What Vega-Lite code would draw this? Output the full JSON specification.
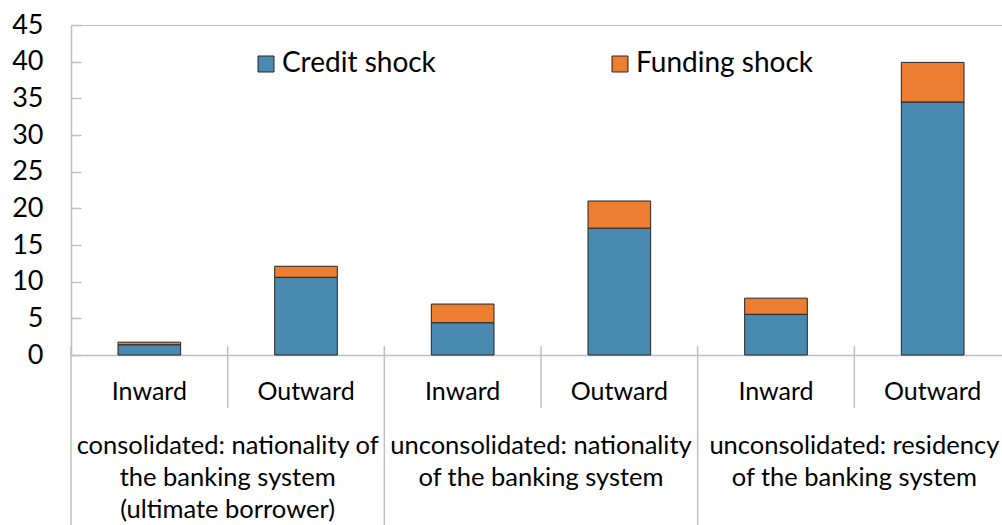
{
  "$schema": "https://vega.github.io/schema/vega-lite/v6.json",
  "width": 940,
  "height": 330,
  "autosize": {"type": "none"},
  "padding": {"left": 71, "top": 25, "right": 0, "bottom": 170},
  "background": "white",
  "config": {
    "font": "Lato",
    "view": {"stroke": "#bfbfbf", "strokeWidth": 1},
    "axisY": {
      "title": null,
      "labelOverlap": false,
      "grid": false,
      "labelFontSize": 27,
      "labelColor": "#000000",
      "tickSize": -10,
      "tickColor": "#bfbfbf",
      "tickWidth": 1.5,
      "labelPadding": 38,
      "domainColor": "#bfbfbf",
      "domainWidth": 1.5
    }
  },
  "datasets": {
    "bars": [
      {"category": "1 Inward", "shock": "Credit shock", "value": 1.4},
      {"category": "1 Inward", "shock": "Funding shock", "value": 0.35},
      {"category": "2 Outward", "shock": "Credit shock", "value": 10.6},
      {"category": "2 Outward", "shock": "Funding shock", "value": 1.5},
      {"category": "3 Inward", "shock": "Credit shock", "value": 4.4},
      {"category": "3 Inward", "shock": "Funding shock", "value": 2.55},
      {"category": "4 Outward", "shock": "Credit shock", "value": 17.3},
      {"category": "4 Outward", "shock": "Funding shock", "value": 3.7},
      {"category": "5 Inward", "shock": "Credit shock", "value": 5.55},
      {"category": "5 Inward", "shock": "Funding shock", "value": 2.2},
      {"category": "6 Outward", "shock": "Credit shock", "value": 34.5},
      {"category": "6 Outward", "shock": "Funding shock", "value": 5.4}
    ],
    "groups": [
      {"category": "2 Outward", "label": "consolidated: nationality of\nthe banking system\n(ultimate borrower)"},
      {"category": "4 Outward", "label": "unconsolidated: nationality\nof the banking system"},
      {"category": "6 Outward", "label": "unconsolidated: residency\nof the banking system"}
    ],
    "longSeps": [
      {"category": "1 Inward"},
      {"category": "3 Inward"},
      {"category": "5 Inward"}
    ],
    "shortSeps": [
      {"category": "2 Outward"},
      {"category": "4 Outward"},
      {"category": "6 Outward"}
    ]
  },
  "layer": [
    {
      "data": {"name": "bars"},
      "mark": {"type": "bar", "stroke": "#262626", "strokeWidth": 1},
      "encoding": {
        "x": {
          "field": "category",
          "type": "nominal",
          "sort": null,
          "scale": {"paddingInner": 0.6, "paddingOuter": 0.3},
          "axis": {
            "title": null,
            "labelExpr": "split(datum.value, ' ')[1]",
            "labelAngle": 0,
            "labelFontSize": 25,
            "labelColor": "#000000",
            "labelPadding": 24,
            "ticks": false,
            "domainColor": "#bfbfbf",
            "domainWidth": 1.5
          }
        },
        "y": {
          "field": "value",
          "type": "quantitative",
          "stack": "zero",
          "scale": {"domain": [0, 45], "nice": false},
          "axis": {"values": [0, 5, 10, 15, 20, 25, 30, 35, 40, 45], "labelOverlap": false}
        },
        "color": {
          "field": "shock",
          "type": "nominal",
          "scale": {"domain": ["Credit shock", "Funding shock"], "range": ["#4a8ab0", "#ed7d31"]},
          "legend": {
            "title": null,
            "orient": "none",
            "direction": "horizontal",
            "legendX": 181,
            "legendY": 25,
            "symbolType": "square",
            "symbolSize": 256,
            "symbolStrokeColor": "#262626",
            "symbolStrokeWidth": 1,
            "labelFontSize": 28,
            "labelLimit": 400,
            "labelColor": "#000000",
            "labelOffset": 2,
            "columnPadding": 170,
            "padding": 0
          }
        },
        "order": {"field": "shock", "sort": "ascending"}
      }
    },
    {
      "data": {"name": "longSeps"},
      "mark": {"type": "rule", "color": "#bfbfbf", "strokeWidth": 1.5},
      "encoding": {
        "x": {"field": "category", "type": "nominal", "bandPosition": -0.75},
        "y": {"datum": 1.2, "axis": {"values": [0, 5, 10, 15, 20, 25, 30, 35, 40, 45], "labelOverlap": false}},
        "y2": {"datum": -24}
      }
    },
    {
      "data": {"name": "shortSeps"},
      "mark": {"type": "rule", "color": "#bfbfbf", "strokeWidth": 1.5},
      "encoding": {
        "x": {"field": "category", "type": "nominal", "bandPosition": -0.75},
        "y": {"datum": 1.2, "axis": {"values": [0, 5, 10, 15, 20, 25, 30, 35, 40, 45], "labelOverlap": false}},
        "y2": {"datum": -7.2}
      }
    },
    {
      "data": {"name": "groups"},
      "mark": {"type": "text", "fontSize": 25.5, "color": "#000000", "lineBreak": "\n", "lineHeight": 32, "baseline": "alphabetic", "align": "center"},
      "encoding": {
        "x": {"field": "category", "type": "nominal", "bandPosition": -0.75},
        "y": {"datum": -13.5, "axis": {"values": [0, 5, 10, 15, 20, 25, 30, 35, 40, 45], "labelOverlap": false}},
        "text": {"field": "label"}
      }
    }
  ]
}
